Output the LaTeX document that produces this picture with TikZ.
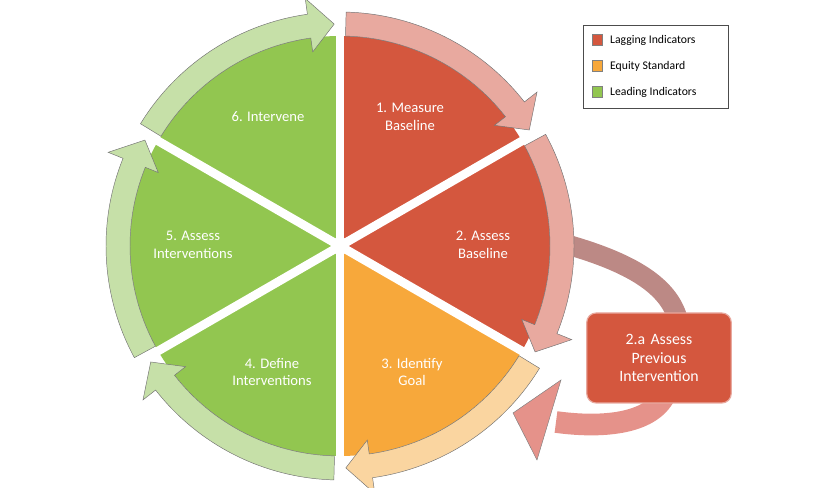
\documentclass[tikz,border=0pt]{standalone}
\usepackage{fontspec}
\setmainfont{Carlito}
\definecolor{cred}{HTML}{D4573E}
\definecolor{corange}{HTML}{F7A83B}
\definecolor{cgreen}{HTML}{92C650}
\definecolor{lred}{HTML}{E8A99F}
\definecolor{lorange}{HTML}{FAD5A0}
\definecolor{lgreen}{HTML}{C6E0A8}
\definecolor{loopA}{HTML}{BC8985}
\definecolor{loopB}{HTML}{E5928A}
\tikzset{
 lbl/.style={text=white,font=\fontsize{12.5}{15}\selectfont,align=center},
 leg/.style={font=\fontsize{10}{12}\selectfont,anchor=west},
 sq/.style={draw=black!50,minimum size=9pt,inner sep=0pt},
}
\newcommand{\bandarrow}[3]{% a1, a2, color
  \pgfmathsetmacro{\hh}{#2+7}
  \fill[#3,draw=black!55,line width=0.4pt] (#1:234) arc[start angle=#1,end angle=\hh,radius=234] -- (\hh:250) -- (#2+0.5:222) -- (\hh:196) -- (\hh:210) arc[start angle=\hh,end angle=#1,radius=210] -- cycle;
}
\begin{document}
\begin{tikzpicture}[x=0.03cm,y=0.03cm]
\useasboundingbox (0,0) rectangle (837,488);
% loop arrow
\draw[loopA,line width=0.6cm,line cap=butt] (565,244) .. controls (640,223) and (670,198) .. (678,168);
\draw[loopB,line width=0.65cm] (665,93) .. controls (650,63) and (600,60) .. (556,66);
\fill[loopB,draw=black!50,line width=0.4pt] (561,108) -- (513,75) -- (537,28) -- cycle;
\node[draw=lred,line width=1pt,fill=cred,rounded corners=8pt,text width=4.1cm,minimum height=2.7cm,lbl,font=\fontsize{13.5}{16}\selectfont] (box) at (659,130) {2.a Assess\\Previous\\Intervention};
\begin{scope}[shift={(340,242)}]
\fill[cred] (0,0) -- (90:210) arc[start angle=90,end angle=-30,radius=210] -- cycle;
\fill[corange] (0,0) -- (-30:210) arc[start angle=-30,end angle=-90,radius=210] -- cycle;
\fill[cgreen] (0,0) -- (-90:210) arc[start angle=-90,end angle=-270,radius=210] -- cycle;
\foreach \a in {90,30,-30,-90,-150,150} \draw[white,line width=0.26cm] (0,0) -- (\a:252);
\fill[white] (0,0) circle (9);
\bandarrow{88.5}{31}{lred}
\bandarrow{28.5}{-29}{lred}
\bandarrow{-31.5}{-89}{lorange}
\bandarrow{-91.5}{-149}{lgreen}
\bandarrow{-151.5}{-209}{lgreen}
\bandarrow{148.5}{91}{lgreen}
\end{scope}
\node[lbl] (s1) at (410,371) {1. Measure\\Baseline};
\node[lbl] (s2) at (483,243) {2. Assess\\Baseline};
\node[lbl] (s3) at (412,116) {3. Identify\\Goal};
\node[lbl] (s4) at (272,116) {4. Define\\Interventions};
\node[lbl] (s5) at (193,243) {5. Assess\\Interventions};
\node[lbl] (s6) at (268,371) {6. Intervene};
% legend
\draw[black!70,line width=0.5pt] (583,380) rectangle (728,463);
\node[sq,fill=cred] (l1) at (597,448) {};
\node[sq,fill=corange] (l2) at (597,422) {};
\node[sq,fill=cgreen] (l3) at (597,396) {};
\node[leg] at (606,448) {Lagging Indicators};
\node[leg] at (606,422) {Equity Standard};
\node[leg] at (606,396) {Leading Indicators};
\end{tikzpicture}
\end{document}
